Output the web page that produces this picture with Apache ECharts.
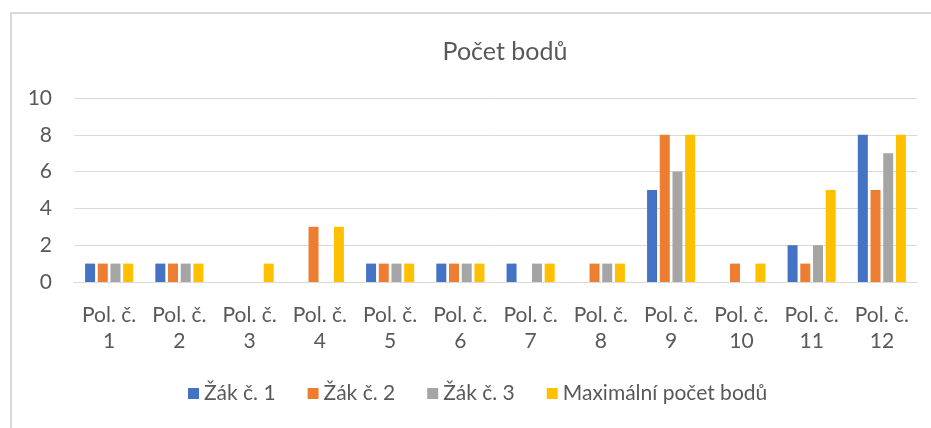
<!DOCTYPE html>
<html>
<head>
<meta charset="utf-8">
<script src="https://cdn.jsdelivr.net/npm/echarts@6/dist/echarts.min.js"></script>
<style>
    html, body { margin: 0; padding: 0; background: #fff; }
    #frame { position: absolute; left: 10px; top: 12px; width: 925px; height: 420px;
             border-left: 2px solid #d9d9d9; border-top: 2px solid #d9d9d9; }
    #main { position: absolute; left: 0; top: 0; width: 931px; height: 428px; }
</style>
</head>
<body>
<div id="frame"></div>
<div id="main"></div>
<script>
var categories = ['Pol. č.\n1', 'Pol. č.\n2', 'Pol. č.\n3', 'Pol. č.\n4', 'Pol. č.\n5', 'Pol. č.\n6',
    'Pol. č.\n7', 'Pol. č.\n8', 'Pol. č.\n9', 'Pol. č.\n10', 'Pol. č.\n11', 'Pol. č.\n12'];
var zak1 = [1, 1, 0, 0, 1, 1, 1, 0, 5, 0, 2, 8];
var zak2 = [1, 1, 0, 3, 1, 1, 0, 1, 8, 1, 1, 5];
var zak3 = [1, 1, 0, 0, 1, 1, 1, 1, 6, 0, 2, 7];
var maxBody = [1, 1, 1, 3, 1, 1, 1, 1, 8, 1, 5, 8];

(function () {
    var myChart = echarts.init(document.getElementById('main'));
    var font = 'Lato, "Open Sans", sans-serif';
    function bar(name, data) {
        return {
            name: name,
            type: 'bar',
            barWidth: 10,
            barGap: '27%',
            data: data
        };
    }
    var option = {
        animation: false,
        color: ['#4472C4', '#ED7D31', '#A5A5A5', '#FFC000'],
        title: {
            text: 'Počet bodů',
            left: 500,
            textAlign: 'center',
            top: 34,
            textStyle: { fontFamily: font, fontSize: 25, fontWeight: 'normal', color: '#595959' }
        },
        legend: {
            bottom: 19,
            left: 183,
            itemWidth: 11,
            itemHeight: 11,
            itemGap: 32,
            icon: 'rect',
            textStyle: { fontFamily: font, fontSize: 21, color: '#595959' },
            data: ['Žák č. 1', 'Žák č. 2', 'Žák č. 3', 'Maximální počet bodů']
        },
        grid: { left: 74, right: 14, top: 98, bottom: 146, containLabel: false },
        xAxis: {
            type: 'category',
            data: categories,
            axisLine: { lineStyle: { color: '#d9d9d9', width: 1 } },
            axisTick: { show: false },
            axisLabel: { interval: 0, fontFamily: font, fontSize: 21, color: '#595959', lineHeight: 26, margin: 20 }
        },
        yAxis: {
            type: 'value',
            min: 0,
            max: 10,
            interval: 2,
            axisLine: { show: false },
            axisTick: { show: false },
            splitLine: { lineStyle: { color: '#d9d9d9', width: 1 } },
            axisLabel: { fontFamily: font, fontSize: 21, color: '#595959', margin: 22 }
        },
        series: [
            bar('Žák č. 1', zak1),
            bar('Žák č. 2', zak2),
            bar('Žák č. 3', zak3),
            bar('Maximální počet bodů', maxBody)
        ]
    };
    myChart.setOption(option);
})();
</script>
</body>
</html>
